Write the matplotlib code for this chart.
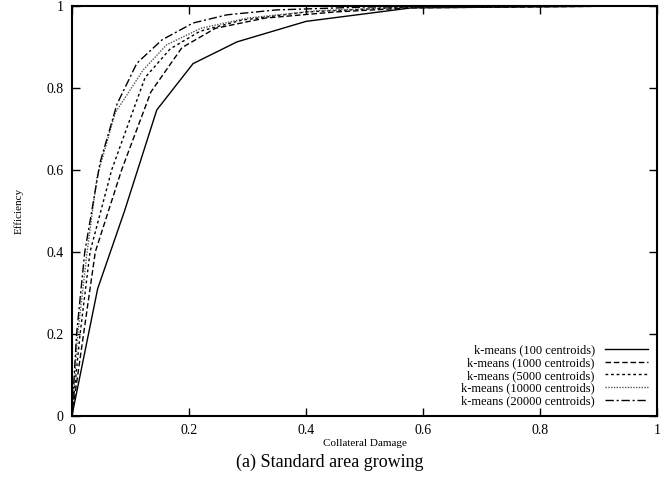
import matplotlib
matplotlib.use('Agg')
import matplotlib.pyplot as plt

plt.rcParams['font.family'] = ['Liberation Serif', 'DejaVu Serif']

# curves (collateral damage, efficiency)
x100 = [0, 0.044, 0.09, 0.145, 0.207, 0.282, 0.40, 0.58, 1.0]
y100 = [0, 0.31, 0.50, 0.746, 0.859, 0.912, 0.962, 0.995, 1.0]

x1000 = [0, 0.02, 0.04, 0.085, 0.135, 0.188, 0.245, 0.33, 0.45, 0.58, 1.0]
y1000 = [0, 0.2, 0.40, 0.60, 0.79, 0.898, 0.945, 0.97, 0.985, 0.995, 1.0]

x5000 = [0, 0.014, 0.031, 0.068, 0.125, 0.168, 0.219, 0.29, 0.40, 0.58, 1.0]
y5000 = [0, 0.2, 0.4, 0.6, 0.825, 0.895, 0.938, 0.965, 0.985, 0.997, 1.0]

x10000 = [0, 0.01, 0.026, 0.043, 0.074, 0.122, 0.162, 0.22, 0.30, 0.42, 0.58, 1.0]
y10000 = [0, 0.2, 0.4, 0.583, 0.739, 0.844, 0.905, 0.945, 0.97, 0.988, 0.997, 1.0]

x20000 = [0, 0.008, 0.022, 0.048, 0.077, 0.111, 0.154, 0.207, 0.265, 0.35, 0.5, 1.0]
y20000 = [0, 0.2, 0.4, 0.617, 0.76, 0.86, 0.917, 0.958, 0.978, 0.99, 0.997, 1.0]

labels = ["k-means (100 centroids)", "k-means (1000 centroids)", "k-means (5000 centroids)",
          "k-means (10000 centroids)", "k-means (20000 centroids)"]
ticks = [0, 0.2, 0.4, 0.6, 0.8, 1]
tick_labels = ["0", "0.2", "0.4", "0.6", "0.8", "1"]

fig = plt.figure(figsize=(6.72, 4.83), dpi=100)
ax = fig.add_axes([0.107, 0.139, 0.871, 0.849])

styles = [
    ('-', 'black'),
    ((0, (4, 2)), 'black'),
    ((0, (2, 2)), 'black'),
    ((0, (1, 1)), '#555555'),
    ((0, (6, 2, 1.5, 2)), 'black'),
]
series = [(x100, y100), (x1000, y1000), (x5000, y5000), (x10000, y10000), (x20000, y20000)]
for (xs, ys), (ls, col), lab in zip(series, styles, labels):
    ax.plot(xs, ys, linestyle=ls, color=col, lw=1.0, label=lab)

ax.set_xlim(0, 1)
ax.set_ylim(0, 1)
ax.set_xticks(ticks)
ax.set_xticklabels(tick_labels)
ax.set_yticks(ticks)
ax.set_yticklabels(tick_labels)
ax.tick_params(direction='in', length=6, width=1, top=True, right=True, labelsize=10, pad=6)
for s in ax.spines.values():
    s.set_linewidth(1.5)

ax.set_xlabel("Collateral Damage", fontsize=8, labelpad=1)
ax.set_ylabel("Efficiency", fontsize=8, labelpad=16)

leg = ax.legend(loc='lower right', frameon=False, markerfirst=False, fontsize=9,
                handlelength=3.5, labelspacing=0.05, borderaxespad=0.3, handletextpad=0.8)
for t in leg.get_texts():
    t.set_ha('right')

fig.text(0.49, 0.043, "(a) Standard area growing", ha='center', va='center', fontsize=13)

fig.savefig("out.png", dpi=100)
